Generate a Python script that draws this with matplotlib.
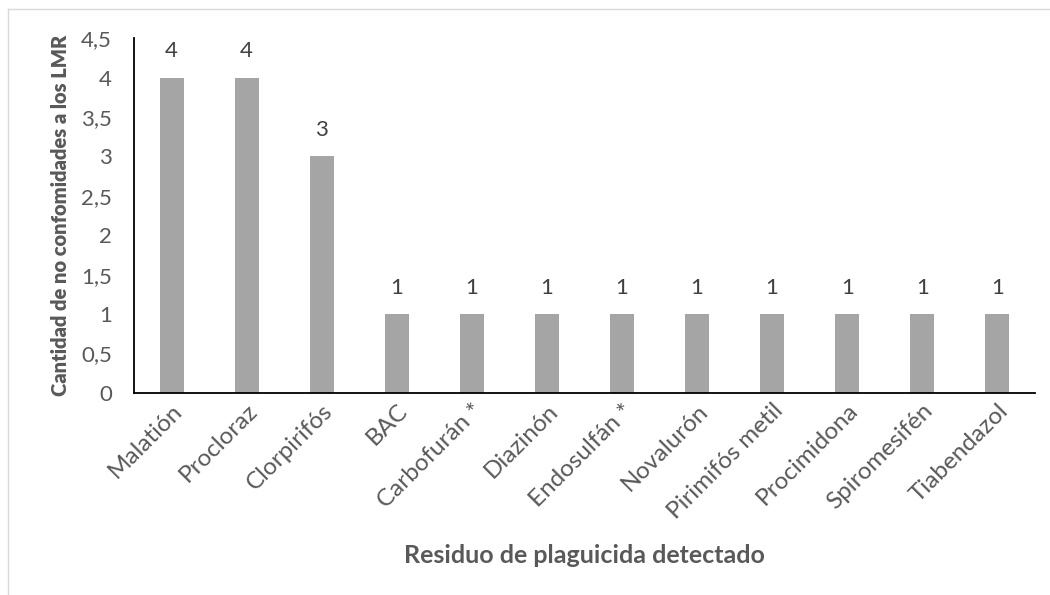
import matplotlib.pyplot as plt
from matplotlib.lines import Line2D

plt.rcParams['font.family'] = ['Lato', 'DejaVu Sans']

residuos = ['Malatión', 'Procloraz', 'Clorpirifós', 'BAC', 'Carbofurán *', 'Diazinón',
            'Endosulfán *', 'Novalurón', 'Pirimifós metil', 'Procimidona', 'Spiromesifén',
            'Tiabendazol']
conteos = [4, 4, 3, 1, 1, 1, 1, 1, 1, 1, 1, 1]
y_ticks = [0, 0.5, 1, 1.5, 2, 2.5, 3, 3.5, 4, 4.5]

fig = plt.figure(figsize=(10.5, 5.95), dpi=100)
ax = fig.add_axes([0.1276, 0.3395, 0.858, 0.5965])

x = range(len(residuos))
bars = ax.bar(x, conteos, width=0.32, color='#A5A5A5', zorder=2)
for b, v in zip(bars, conteos):
    ax.text(b.get_x() + b.get_width() / 2, v + 0.33, str(v), ha='center', va='center',
            fontsize=16, color='#404040')

ax.set_xlim(-0.5, len(residuos) - 0.5)
ax.set_ylim(0, 4.5)
ax.set_yticks(y_ticks)
ax.set_yticklabels([f'{t:g}'.replace('.', ',') for t in y_ticks], fontsize=16, color='#595959')
ax.set_xticks(list(x))
ax.set_xticklabels(residuos, rotation=45, ha='right', va='top', rotation_mode='anchor',
                   fontsize=17.5, color='#595959')
ax.tick_params(axis='both', length=0)
ax.tick_params(axis='y', pad=16)
ax.tick_params(axis='x', pad=5)

for s in ['top', 'right']:
    ax.spines[s].set_visible(False)
for s in ['left', 'bottom']:
    ax.spines[s].set_color('black')
    ax.spines[s].set_linewidth(1.3)
    ax.spines[s].set_zorder(3)

ax.set_ylabel('Cantidad de no confomidades a los LMR', fontsize=14.5, fontweight='heavy',
              color='#595959')
ax.yaxis.set_label_coords(-0.071, 0.5)
fig.text(0.557, 0.067, 'Residuo de plaguicida detectado', ha='center', va='center',
         fontsize=18, fontweight='bold', color='#595959')

# chart area border (left and top visible)
fig.add_artist(Line2D([8 / 1050, 1], [1 - 9 / 595, 1 - 9 / 595], transform=fig.transFigure,
                      color='#D9D9D9', lw=1))
fig.add_artist(Line2D([8 / 1050, 8 / 1050], [0, 1 - 9 / 595], transform=fig.transFigure,
                      color='#D9D9D9', lw=1))

fig.savefig('out.png', dpi=100)
